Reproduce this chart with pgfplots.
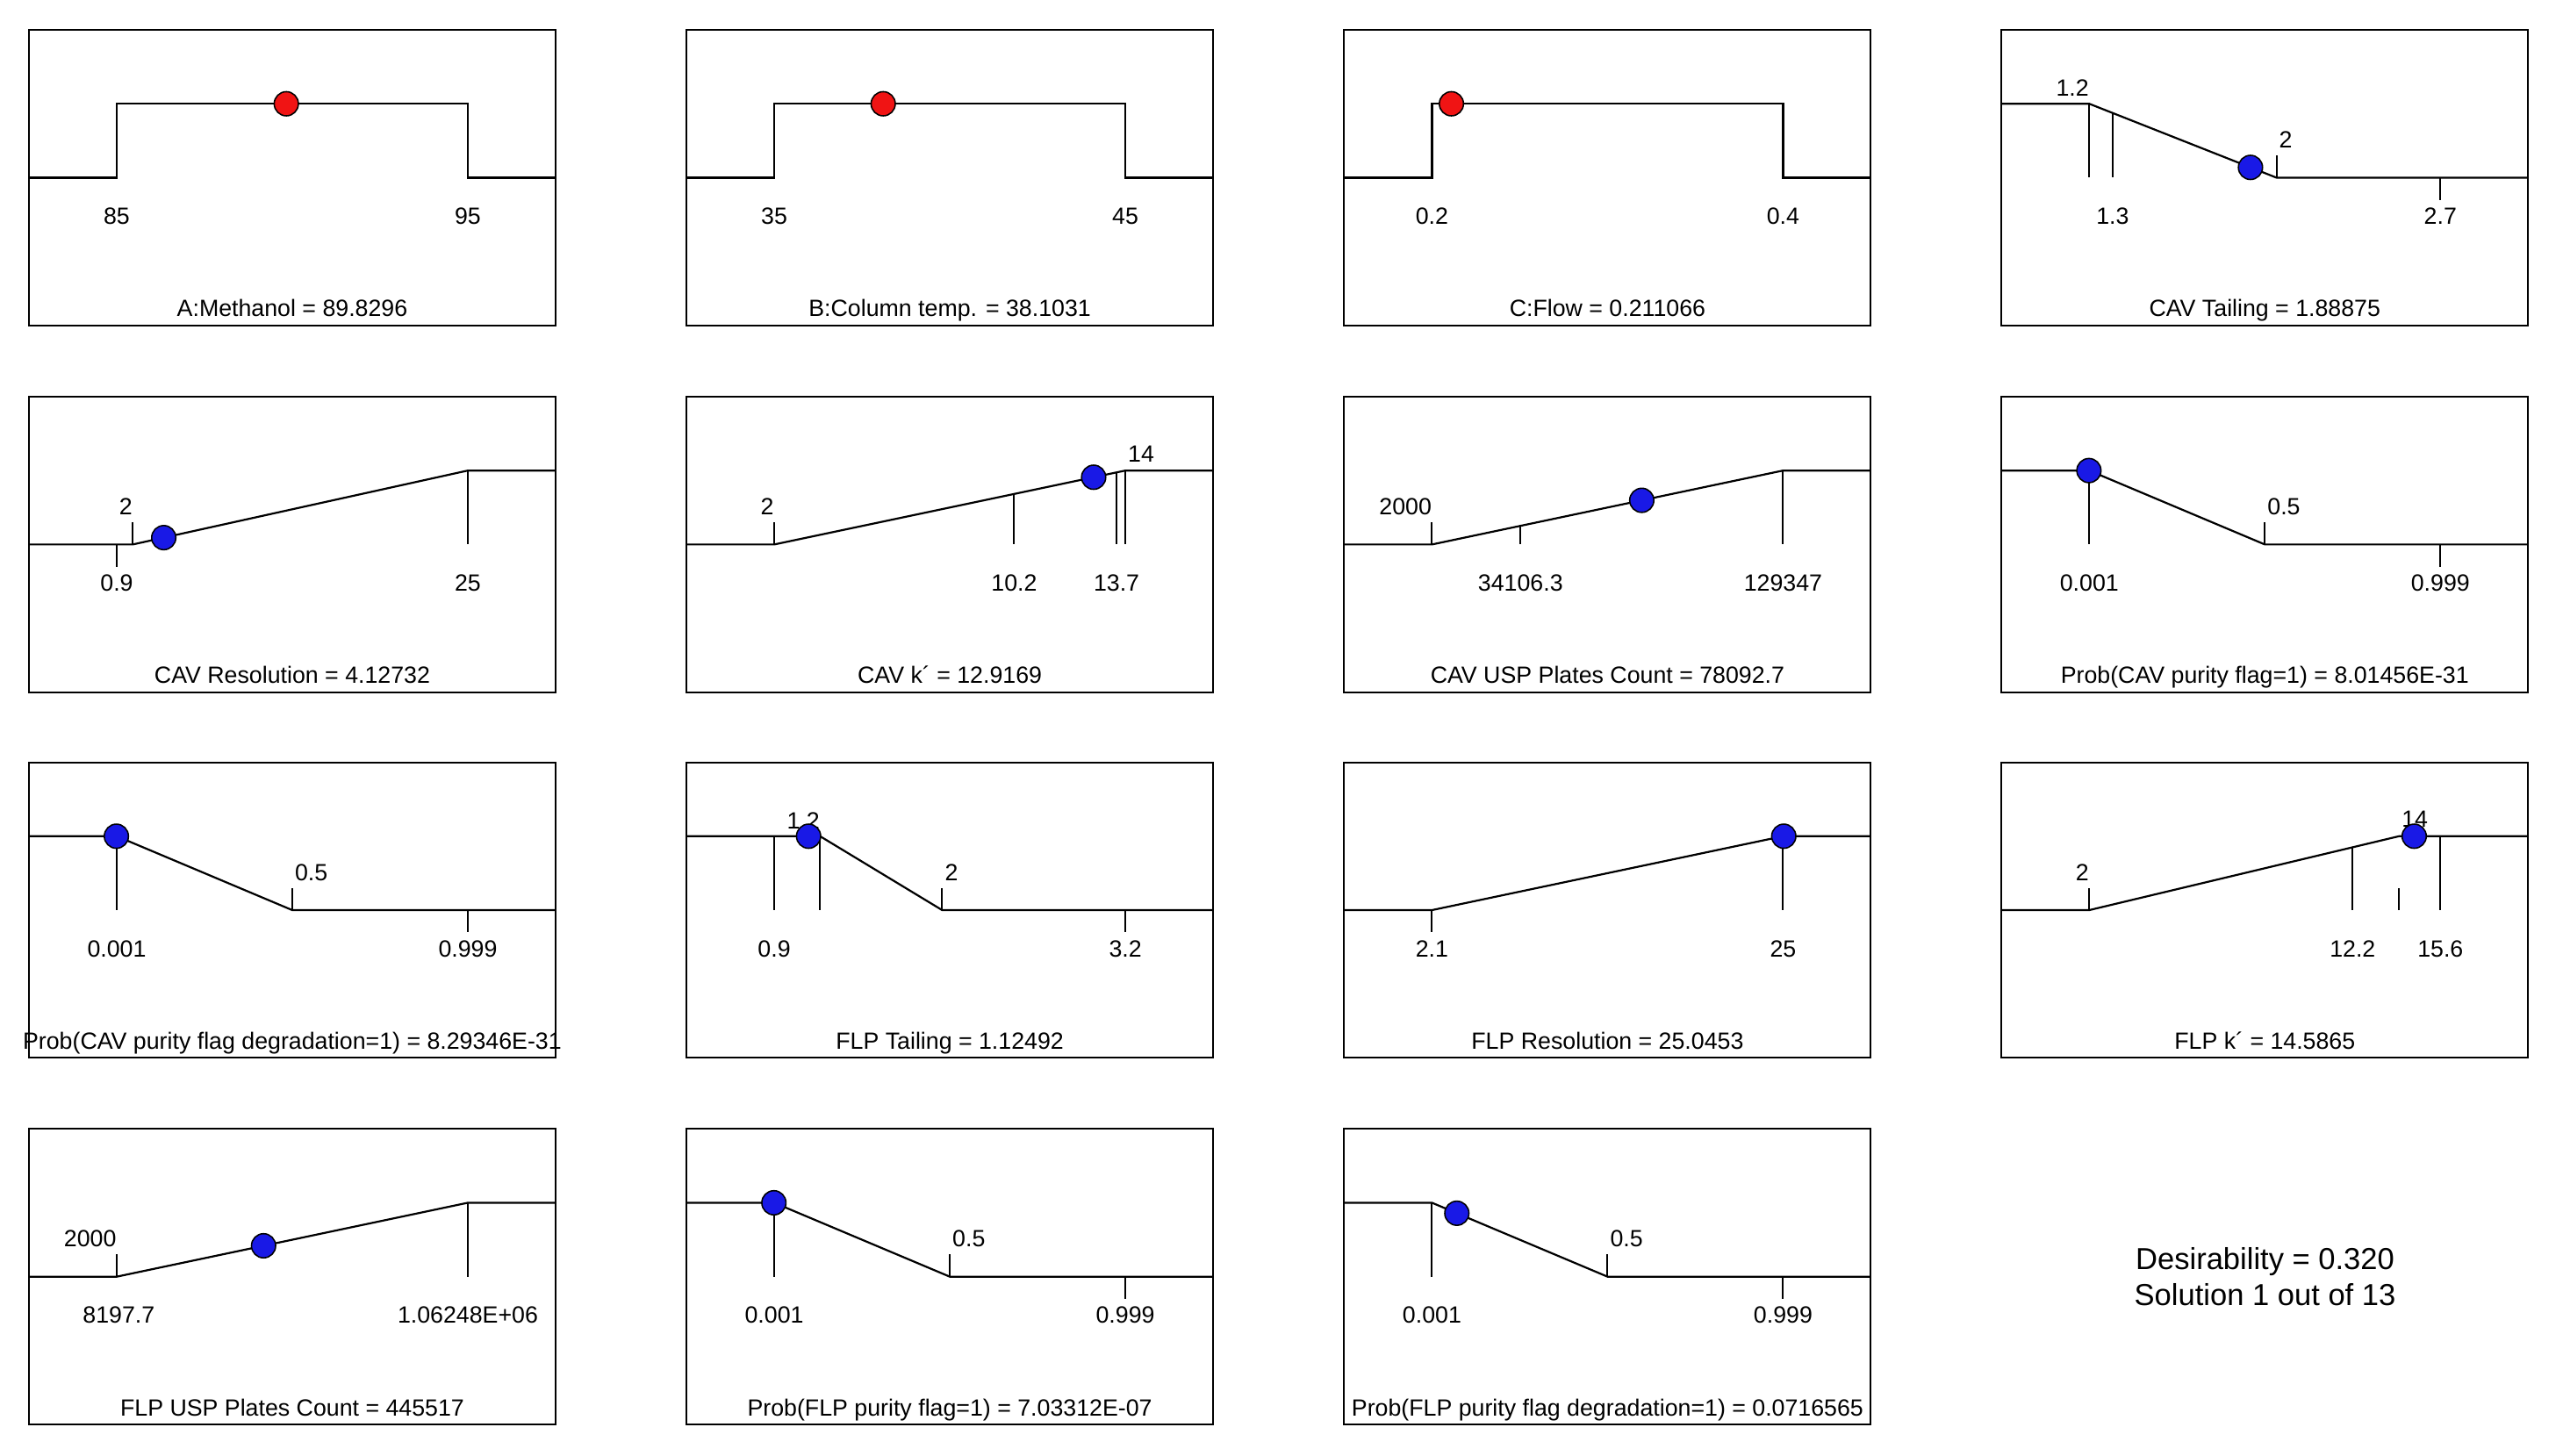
\documentclass[border=0pt]{standalone}
\usepackage{fontspec}
\setmainfont{Liberation Sans}
\usepackage{pgfplots}
\pgfplotsset{compat=1.18}
\definecolor{dotred}{RGB}{240,20,20}
\definecolor{dotblue}{RGB}{25,25,230}

\pgfplotsset{
  panel/.style={scale only axis, width=231pt, height=129.7pt,
    ymin=-2, ymax=2, xtick=\empty, ytick=\empty,
    axis line style={line width=0.8pt}, clip=false, anchor=north west},
  ramp/.style={black, line width=0.85pt, mark=none},
  tk/.style={black, line width=0.8pt, mark=none},
  dotr/.style={only marks, mark=*, mark size=5.3pt,
    mark options={fill=dotred, draw=black, line width=0.6pt}},
  dotb/.style={only marks, mark=*, mark size=5.3pt,
    mark options={fill=dotblue, draw=black, line width=0.6pt}},
}
\tikzset{
  lb/.style={anchor=base, inner sep=0pt},
  la/.style={anchor=base east, inner sep=0pt},
  ra/.style={anchor=base west, inner sep=0pt, xshift=1pt},
  ttl/.style={anchor=base, inner sep=0pt},
}

\begin{document}
\begin{tikzpicture}[font=\fontsize{10.3}{12}\selectfont]
\useasboundingbox (0,0) rectangle (1124.2pt,-638.7pt);

% ---- row 1: factors
\begin{axis}[panel, at={(12.7pt,-13.1pt)}, xmin=82.5, xmax=97.5]
\addplot[ramp] coordinates {(82.5,0) (85,0) (85,1) (95,1) (95,0) (97.5,0)};
\node[lb] at (85,-0.63) {85};
\node[lb] at (95,-0.63) {95};
\node[ttl] at (rel axis cs:0.5,0.03) {A:Methanol = 89.8296};
\addplot[dotr] coordinates {(89.8296,1)};
\end{axis}

\begin{axis}[panel, at={(301.1pt,-13.1pt)}, xmin=32.5, xmax=47.5]
\addplot[ramp] coordinates {(32.5,0) (35,0) (35,1) (45,1) (45,0) (47.5,0)};
\node[lb] at (35,-0.63) {35};
\node[lb] at (45,-0.63) {45};
\node[ttl] at (rel axis cs:0.5,0.03) {B:Column temp. = 38.1031};
\addplot[dotr] coordinates {(38.1031,1)};
\end{axis}

\begin{axis}[panel, at={(589.6pt,-13.1pt)}, xmin=0.15, xmax=0.45]
\addplot[ramp] coordinates {(0.15,0) (0.2,0) (0.2,1) (0.4,1) (0.4,0) (0.45,0)};
\node[lb] at (0.2,-0.63) {0.2};
\node[lb] at (0.4,-0.63) {0.4};
\node[ttl] at (rel axis cs:0.5,0.03) {C:Flow = 0.211066};
\addplot[dotr] coordinates {(0.211066,1)};
\end{axis}

\begin{axis}[panel, at={(877.9pt,-13.1pt)}, xmin=0.825, xmax=3.075]
\addplot[ramp] coordinates {(0.825,1) (1.2,1) (2,0) (3.075,0)};
\addplot[tk] coordinates {(1.2,1) (1.2,0)};
\addplot[tk] coordinates {(1.3,0.875) (1.3,0)};
\addplot[tk] coordinates {(2,0) (2,0.3)};
\addplot[tk] coordinates {(2.7,0) (2.7,-0.3)};
\node[la] at (1.2,1.1) {1.2};
\node[ra] at (2,0.4) {2};
\node[lb] at (1.3,-0.63) {1.3};
\node[lb] at (2.7,-0.63) {2.7};
\node[ttl] at (rel axis cs:0.5,0.03) {CAV Tailing = 1.88875};
\addplot[dotb] coordinates {(1.88875,0.139)};
\end{axis}

% ---- row 2
\begin{axis}[panel, at={(12.7pt,-174.0pt)}, xmin=-5.125, xmax=31.025]
\addplot[ramp] coordinates {(-5.125,0) (2,0) (25,1) (31.025,1)};
\addplot[tk] coordinates {(2,0) (2,0.3)};
\addplot[tk] coordinates {(0.9,0) (0.9,-0.3)};
\addplot[tk] coordinates {(25,1) (25,0)};
\node[la] at (2,0.4) {2};
\node[lb] at (0.9,-0.63) {0.9};
\node[lb] at (25,-0.63) {25};
\node[ttl] at (rel axis cs:0.5,0.03) {CAV Resolution = 4.12732};
\addplot[dotb] coordinates {(4.12732,0.0925)};
\end{axis}

\begin{axis}[panel, at={(301.1pt,-174.0pt)}, xmin=-1, xmax=17]
\addplot[ramp] coordinates {(-1,0) (2,0) (14,1) (17,1)};
\addplot[tk] coordinates {(2,0) (2,0.3)};
\addplot[tk] coordinates {(10.2,0.6833) (10.2,0)};
\addplot[tk] coordinates {(13.7,0.975) (13.7,0)};
\addplot[tk] coordinates {(14,1) (14,0)};
\node[la] at (2,0.4) {2};
\node[ra] at (14,1.12) {14};
\node[lb] at (10.2,-0.63) {10.2};
\node[lb] at (13.7,-0.63) {13.7};
\node[ttl] at (rel axis cs:0.5,0.03) {CAV k´ = 12.9169};
\addplot[dotb] coordinates {(12.9169,0.9097)};
\end{axis}

\begin{axis}[panel, at={(589.6pt,-174.0pt)}, xmin=-29836.75, xmax=161183.75]
\addplot[ramp] coordinates {(-29836.75,0) (2000,0) (129347,1) (161183.75,1)};
\addplot[tk] coordinates {(2000,0) (2000,0.3)};
\addplot[tk] coordinates {(34106.3,0.2521) (34106.3,0)};
\addplot[tk] coordinates {(129347,1) (129347,0)};
\node[la] at (2000,0.4) {2000};
\node[lb] at (34106.3,-0.63) {34106.3};
\node[lb] at (129347,-0.63) {129347};
\node[ttl] at (rel axis cs:0.5,0.03) {CAV USP Plates Count = 78092.7};
\addplot[dotb] coordinates {(78092.7,0.5975)};
\end{axis}

\begin{axis}[panel, at={(877.9pt,-174.0pt)}, xmin=-0.2485, xmax=1.2485]
\addplot[ramp] coordinates {(-0.2485,1) (0.001,1) (0.5,0) (1.2485,0)};
\addplot[tk] coordinates {(0.001,1) (0.001,0)};
\addplot[tk] coordinates {(0.5,0) (0.5,0.3)};
\addplot[tk] coordinates {(0.999,0) (0.999,-0.3)};
\node[ra] at (0.5,0.4) {0.5};
\node[lb] at (0.001,-0.63) {0.001};
\node[lb] at (0.999,-0.63) {0.999};
\node[ttl] at (rel axis cs:0.5,0.03) {Prob(CAV purity flag=1) = 8.01456E-31};
\addplot[dotb] coordinates {(8.01456e-31,1)};
\end{axis}

% ---- row 3
\begin{axis}[panel, at={(12.7pt,-334.4pt)}, xmin=-0.2485, xmax=1.2485]
\addplot[ramp] coordinates {(-0.2485,1) (0.001,1) (0.5,0) (1.2485,0)};
\addplot[tk] coordinates {(0.001,1) (0.001,0)};
\addplot[tk] coordinates {(0.5,0) (0.5,0.3)};
\addplot[tk] coordinates {(0.999,0) (0.999,-0.3)};
\node[ra] at (0.5,0.4) {0.5};
\node[lb] at (0.001,-0.63) {0.001};
\node[lb] at (0.999,-0.63) {0.999};
\node[ttl] at (rel axis cs:0.5,0.03) {Prob(CAV purity flag degradation=1) = 8.29346E-31};
\addplot[dotb] coordinates {(8.29346e-31,1)};
\end{axis}

\begin{axis}[panel, at={(301.1pt,-334.4pt)}, xmin=0.325, xmax=3.775]
\addplot[ramp] coordinates {(0.325,1) (1.2,1) (2,0) (3.775,0)};
\addplot[tk] coordinates {(0.9,1) (0.9,0)};
\addplot[tk] coordinates {(1.2,1) (1.2,0)};
\addplot[tk] coordinates {(2,0) (2,0.3)};
\addplot[tk] coordinates {(3.2,0) (3.2,-0.3)};
\node[la] at (1.2,1.1) {1.2};
\node[ra] at (2,0.4) {2};
\node[lb] at (0.9,-0.63) {0.9};
\node[lb] at (3.2,-0.63) {3.2};
\node[ttl] at (rel axis cs:0.5,0.03) {FLP Tailing = 1.12492};
\addplot[dotb] coordinates {(1.12492,1)};
\end{axis}

\begin{axis}[panel, at={(589.6pt,-334.4pt)}, xmin=-3.625, xmax=30.725]
\addplot[ramp] coordinates {(-3.625,0) (2.1,0) (25,1) (30.725,1)};
\addplot[tk] coordinates {(2.1,0) (2.1,-0.3)};
\addplot[tk] coordinates {(25,1) (25,0)};
\node[lb] at (2.1,-0.63) {2.1};
\node[lb] at (25,-0.63) {25};
\node[ttl] at (rel axis cs:0.5,0.03) {FLP Resolution = 25.0453};
\addplot[dotb] coordinates {(25.0453,1)};
\end{axis}

\begin{axis}[panel, at={(877.9pt,-334.4pt)}, xmin=-1.4, xmax=19]
\addplot[ramp] coordinates {(-1.4,0) (2,0) (14,1) (19,1)};
\addplot[tk] coordinates {(2,0) (2,0.3)};
\addplot[tk] coordinates {(12.2,0.85) (12.2,0)};
\addplot[tk] coordinates {(14,0) (14,0.3)};
\addplot[tk] coordinates {(15.6,1) (15.6,0)};
\node[la] at (2,0.4) {2};
\node[ra] at (14,1.12) {14};
\node[lb] at (12.2,-0.63) {12.2};
\node[lb] at (15.6,-0.63) {15.6};
\node[ttl] at (rel axis cs:0.5,0.03) {FLP k´ = 14.5865};
\addplot[dotb] coordinates {(14.5865,1)};
\end{axis}

% ---- row 4
\begin{axis}[panel, at={(12.7pt,-495.2pt)}, xmin=-263120, xmax=1327600]
\addplot[ramp] coordinates {(-263120,0) (2000,0) (1062480,1) (1327600,1)};
\addplot[tk] coordinates {(2000,0) (2000,0.3)};
\addplot[tk] coordinates {(1062480,1) (1062480,0)};
\node[la] at (2000,0.4) {2000};
\node[lb] at (8197.7,-0.63) {8197.7};
\node[lb] at (1062480,-0.63) {1.06248E+06};
\node[ttl] at (rel axis cs:0.5,0.03) {FLP USP Plates Count = 445517};
\addplot[dotb] coordinates {(445517,0.4182)};
\end{axis}

\begin{axis}[panel, at={(301.1pt,-495.2pt)}, xmin=-0.2485, xmax=1.2485]
\addplot[ramp] coordinates {(-0.2485,1) (0.001,1) (0.5,0) (1.2485,0)};
\addplot[tk] coordinates {(0.001,1) (0.001,0)};
\addplot[tk] coordinates {(0.5,0) (0.5,0.3)};
\addplot[tk] coordinates {(0.999,0) (0.999,-0.3)};
\node[ra] at (0.5,0.4) {0.5};
\node[lb] at (0.001,-0.63) {0.001};
\node[lb] at (0.999,-0.63) {0.999};
\node[ttl] at (rel axis cs:0.5,0.03) {Prob(FLP purity flag=1) = 7.03312E-07};
\addplot[dotb] coordinates {(7.03312e-7,1)};
\end{axis}

\begin{axis}[panel, at={(589.6pt,-495.2pt)}, xmin=-0.2485, xmax=1.2485]
\addplot[ramp] coordinates {(-0.2485,1) (0.001,1) (0.5,0) (1.2485,0)};
\addplot[tk] coordinates {(0.001,1) (0.001,0)};
\addplot[tk] coordinates {(0.5,0) (0.5,0.3)};
\addplot[tk] coordinates {(0.999,0) (0.999,-0.3)};
\node[ra] at (0.5,0.4) {0.5};
\node[lb] at (0.001,-0.63) {0.001};
\node[lb] at (0.999,-0.63) {0.999};
\node[ttl] at (rel axis cs:0.5,0.03) {Prob(FLP purity flag degradation=1) = 0.0716565};
\addplot[dotb] coordinates {(0.0716565,0.8584)};
\end{axis}

\node[align=center, font=\fontsize{13.3}{15.8}\selectfont] at (993.5pt,-560pt)
  {Desirability = 0.320\\Solution 1 out of 13};
\end{tikzpicture}
\end{document}
